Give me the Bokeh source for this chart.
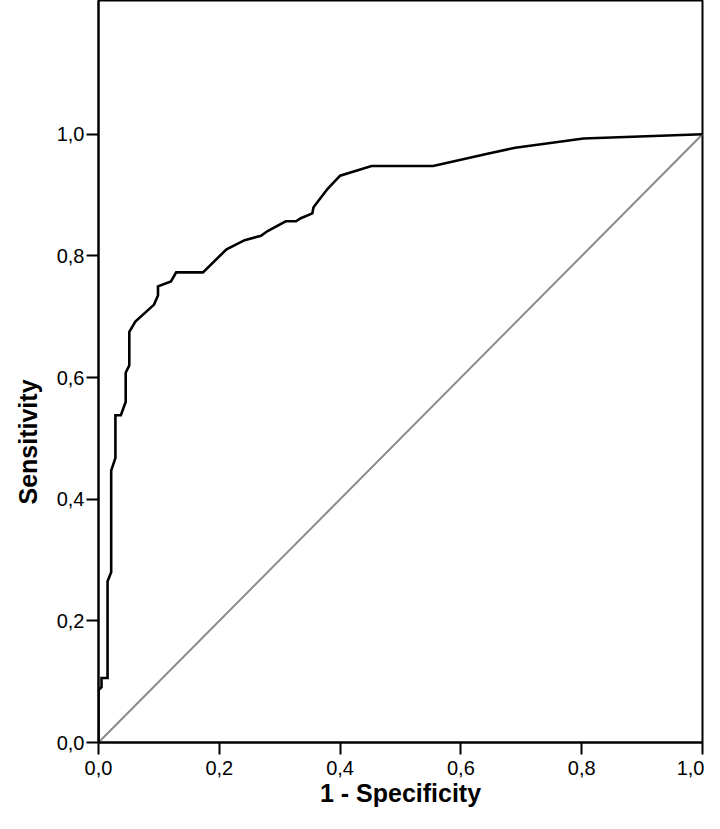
from bokeh.plotting import figure
from bokeh.models import Range1d, FixedTicker, CustomJSTickFormatter, Title
from bokeh.embed import file_html
from bokeh.resources import INLINE

# ROC curve (1 - specificity, sensitivity)
fpr = [0.0, 0.0, 0.005, 0.005, 0.015, 0.015, 0.021, 0.021, 0.028, 0.028,
       0.037, 0.045, 0.045, 0.051, 0.051, 0.061, 0.092, 0.0985, 0.0985, 0.12,
       0.1286, 0.173, 0.212, 0.242, 0.269, 0.28, 0.31, 0.327, 0.335, 0.354,
       0.356, 0.379, 0.40, 0.452, 0.554, 0.644, 0.69, 0.803, 1.0]
tpr = [0.0, 0.086, 0.091, 0.106, 0.106, 0.265, 0.28, 0.447, 0.468, 0.538,
       0.538, 0.56, 0.608, 0.62, 0.675, 0.692, 0.72, 0.735, 0.75, 0.758,
       0.773, 0.773, 0.811, 0.826, 0.833, 0.841, 0.857, 0.857, 0.862, 0.87,
       0.88, 0.91, 0.932, 0.948, 0.948, 0.968, 0.978, 0.993, 1.0]

# reference line
ref_x = [0.0, 1.0]
ref_y = [0.0, 1.0]

tick_vals = [0.0, 0.2, 0.4, 0.6, 0.8, 1.0]
x_title = "1 - Specificity"
y_title = "Sensitivity"

p = figure(width=704, height=813, output_backend="svg", toolbar_location=None,
           x_range=Range1d(0, 1.0), y_range=Range1d(0, 1.22),
           min_border_left=98, min_border_right=2, min_border_top=0,
           min_border_bottom=71)

p.line(ref_x, ref_y, line_color="#8a8a8a", line_width=2)
p.line(fpr, tpr, line_color="black", line_width=2.6, line_join="miter")

p.xgrid.visible = False
p.ygrid.visible = False
p.outline_line_color = "black"
p.outline_line_width = 2
p.background_fill_color = "white"
p.border_fill_color = "white"

fmt = CustomJSTickFormatter(code="return tick.toFixed(1).replace('.', ',');")
for ax in (p.xaxis[0], p.yaxis[0]):
    ax.ticker = FixedTicker(ticks=tick_vals)
    ax.formatter = fmt
    ax.axis_line_color = "black"
    ax.axis_line_width = 2
    ax.major_tick_line_color = "black"
    ax.major_tick_line_width = 2
    ax.major_tick_out = 12
    ax.major_tick_in = 0
    ax.minor_tick_line_color = None
    ax.major_label_text_font = "Liberation Sans"
    ax.major_label_text_font_size = "20px"
    ax.major_label_text_color = "black"

p.xaxis.major_label_standoff = 6
p.yaxis.major_label_standoff = 2
p.yaxis.major_label_orientation = "horizontal"

p.xaxis.axis_label = x_title
p.xaxis.axis_label_standoff = 1
p.xaxis.axis_label_text_font = "Liberation Sans"
p.xaxis.axis_label_text_font_size = "25px"
p.xaxis.axis_label_text_font_style = "bold"
p.xaxis.axis_label_text_color = "black"

yt = Title(text=y_title, align="left", offset=238, vertical_align="top",
           standoff=20, text_font="Liberation Sans", text_font_size="25px",
           text_font_style="bold", text_color="black")
p.add_layout(yt, "left")

open("out.html", "w").write(file_html(p, INLINE))
